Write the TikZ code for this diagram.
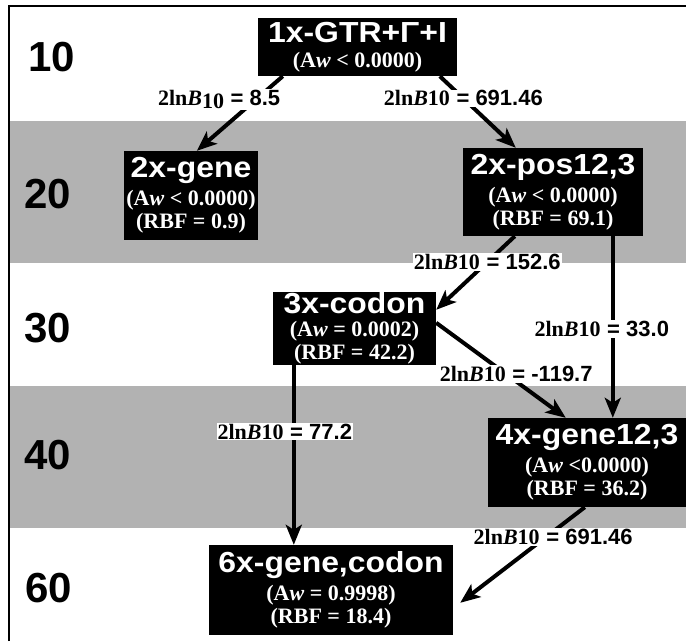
\documentclass[tikz,border=0pt]{standalone}
\usepackage{fontspec}
\usetikzlibrary{arrows.meta}
\newfontfamily\headfont[FakeStretch=1.1]{Liberation Sans}
\newfontfamily\numfont{Liberation Sans}
\newfontfamily\subfont{Liberation Serif}
\definecolor{bandgray}{gray}{0.70}
\newcommand{\mtitle}[1]{{\headfont\bfseries\fontsize{29}{31}\selectfont #1}}
\newcommand{\lnb}{{\subfont\bfseries 2ln\textit{B}10}}
\newcommand{\val}[1]{{\numfont\bfseries #1}}
\tikzset{
	model/.style={fill=black, text=white, inner sep=0pt, align=center, font=\subfont\bfseries\fontsize{22}{23}\selectfont},
	link/.style={line width=4pt, -{Stealth[length=20pt, width=16pt, inset=5pt]}},
	bayes/.style={fill=white, inner sep=1pt, font=\fontsize{22}{24}\selectfont},
	level/.style={font=\numfont\bfseries\fontsize{42}{44}\selectfont}
}
\begin{document}
\begin{tikzpicture}[x=1pt, y=-1pt]
	\useasboundingbox (0,0) rectangle (686,641);
	\fill[bandgray] (9,121) rectangle (686,263);
	\fill[bandgray] (9,386) rectangle (686,528);
	\draw[line width=2pt] (9,641) -- (9,6) -- (686,6);
	\node[level] (l10) at (52,57) {10};
	\node[level] (l20) at (48,194) {20};
	\node[level] (l30) at (48,328) {30};
	\node[level] (l40) at (48,455) {40};
	\node[level] (l60) at (49,588) {60};
	\node[model, minimum width=199pt, minimum height=58pt] (top) at (357.5,47) {\mtitle{1x-GTR+Γ+I}\\[2pt](A\textit{w} < 0.0000)};
	\node[model, minimum width=134pt, minimum height=89pt] (gene2) at (191,195.5) {\mtitle{2x-gene}\\[5pt](A\textit{w} < 0.0000)\\(RBF = 0.9)};
	\node[model, minimum width=180pt, minimum height=88pt] (pos2) at (553,192) {\mtitle{2x-pos12,3}\\[5pt](A\textit{w} < 0.0000)\\(RBF = 69.1)};
	\node[model, minimum width=163pt, minimum height=73pt] (codon3) at (354.5,328.5) {\mtitle{3x-codon}\\(A\textit{w} = 0.0002)\\(RBF = 42.2)};
	\node[model, minimum width=198pt, minimum height=89pt] (gene4) at (587,462.5) {\mtitle{4x-gene12,3}\\[5pt](A\textit{w} <0.0000)\\(RBF = 36.2)};
	\node[model, minimum width=244pt, minimum height=90pt] (six) at (331,590) {\mtitle{6x-gene,codon}\\[5pt](A\textit{w} = 0.9998)\\(RBF = 18.4)};
	\draw[link] ([xshift=25pt]top.south west) -- node[bayes, pos=.31, xshift=-37pt] {{\subfont\bfseries 2ln\textit{B}\raisebox{-3pt}{10}} \val{= 8.5}} ([xshift=73pt]gene2.north west);
	\draw[link] ([xshift=182pt]top.south west) -- node[bayes, pos=.31] {\lnb\ \val{= 691.46}} ([xshift=53pt]pos2.north west);
	\draw[link] ([xshift=52pt]pos2.south west) -- node[bayes, pos=.35] {\lnb\ \val{= 152.6}} ([yshift=-18pt]codon3.north east);
	\draw[link] ([xshift=150pt]pos2.south west) -- node[bayes, pos=.51, xshift=-11pt] {\lnb\ \val{= 33.0}} ([xshift=125pt]gene4.north west);
	\draw[link] ([yshift=-31pt]codon3.north east) -- node[bayes, pos=.54, xshift=10pt] {\lnb\ \val{= -119.7}} ([xshift=78pt]gene4.north west);
	\draw[link] ([xshift=21pt]codon3.south west) -- node[bayes, pos=.37, xshift=-9pt] {\lnb\ \val{= 77.2}} ([xshift=85pt]six.north west);
	\draw[link] ([xshift=97pt]gene4.south west) -- node[bayes, pos=.31, xshift=7pt] {\lnb\ \val{= 691.46}} ([xshift=7pt, yshift=-58pt]six.north east);
\end{tikzpicture}
\end{document}
